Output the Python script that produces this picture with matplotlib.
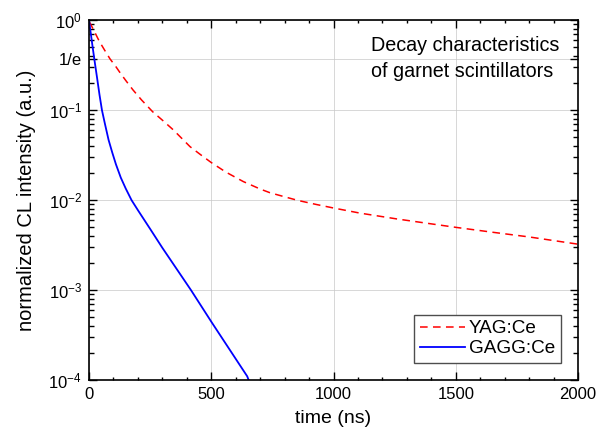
import numpy as np
import matplotlib
matplotlib.use("Agg")
import matplotlib.pyplot as plt
from matplotlib.ticker import FixedLocator, LogLocator, MultipleLocator, NullFormatter

# values (time in ns, normalized intensity)
yag_t = [0, 4, 20, 42, 65, 86, 110, 128, 151, 180, 215, 260, 300, 345, 413, 454, 500,
         560, 631, 700, 740, 800, 856, 930, 1003, 1108, 1258, 1400, 1504, 1650, 1800, 2000]
yag_i = [0.955, 0.933, 0.77, 0.585, 0.46, 0.372, 0.305, 0.259, 0.213, 0.168, 0.130,
         0.0964, 0.0776, 0.0604, 0.0394, 0.0324, 0.0262, 0.0205, 0.0161, 0.0133, 0.0121,
         0.0109, 0.00991, 0.00895, 0.00815, 0.00718, 0.00619, 0.00545, 0.00497, 0.00440,
         0.00390, 0.00324]

gagg_t = [0, 5, 10, 15, 22, 33, 43, 53, 65, 80, 95, 110, 130, 150, 174, 202, 250, 300,
          417, 502, 647, 660]
gagg_i = [1.0, 0.79, 0.63, 0.50, 0.366, 0.229, 0.148, 0.100, 0.0708, 0.0468, 0.0339,
          0.0251, 0.0178, 0.0135, 0.0100, 0.00759, 0.00479, 0.00295, 0.00100, 0.000437,
          0.000110, 0.0000891]

x_ticks = [0, 500, 1000, 1500, 2000]
y_ticks = [1e-4, 1e-3, 1e-2, 1e-1, np.exp(-1), 1.0]
y_labels = ["$10^{-4}$", "$10^{-3}$", "$10^{-2}$", "$10^{-1}$", "1/e", "$10^{0}$"]

plt.rcParams["font.family"] = ["Liberation Sans", "DejaVu Sans"]
plt.rcParams["mathtext.fontset"] = "custom"
plt.rcParams["mathtext.rm"] = "Liberation Sans"
plt.rcParams["mathtext.default"] = "regular"

fig = plt.figure(figsize=(5.99, 4.36), dpi=100)
ax = fig.add_axes([0.1486, 0.1284, 0.8164, 0.825])

ax.plot(yag_t, yag_i, color="#ff0000", lw=1.1, ls=(0, (5, 3.5)), label="YAG:Ce")
ax.plot(gagg_t, gagg_i, color="#0000ff", lw=1.3, label="GAGG:Ce")

ax.set_yscale("log")
ax.set_xlim(0, 2000)
ax.set_ylim(1e-4, 1)

ax.xaxis.set_major_locator(FixedLocator(x_ticks))
ax.xaxis.set_minor_locator(MultipleLocator(100))
ax.yaxis.set_major_locator(FixedLocator(y_ticks))
ax.set_yticklabels(y_labels)
ax.yaxis.set_minor_locator(LogLocator(base=10, subs=np.arange(2, 10)))
ax.yaxis.set_minor_formatter(NullFormatter())

ax.tick_params(which="both", direction="in", top=True, right=True, labelsize=12, width=1.0)
ax.tick_params(which="major", length=6, pad=5)
ax.tick_params(axis="x", which="minor", length=2.5)
ax.tick_params(axis="y", which="minor", length=3.5)
for s in ax.spines.values():
  s.set_linewidth(1.2)

ax.grid(True, which="major", color="0.78", lw=0.5)
ax.set_axisbelow(True)

ax.set_xlabel("time (ns)", fontsize=14, labelpad=6)
ax.set_ylabel("normalized CL intensity (a.u.)", fontsize=14.5, labelpad=9)

ax.text(0.577, 0.893, "Decay characteristics\nof garnet scintillators", transform=ax.transAxes,
        ha="left", va="center", multialignment="left", fontsize=14.2, linespacing=1.45)

leg = ax.legend(loc="lower right", bbox_to_anchor=(0.965, 0.047), fontsize=13.6,
                fancybox=False, framealpha=1, edgecolor="0.3", handlelength=2.4,
                borderaxespad=0, borderpad=0.3, labelspacing=0.15, handletextpad=0.2)
leg.get_frame().set_linewidth(1.0)

fig.savefig("out.png", dpi=100)
